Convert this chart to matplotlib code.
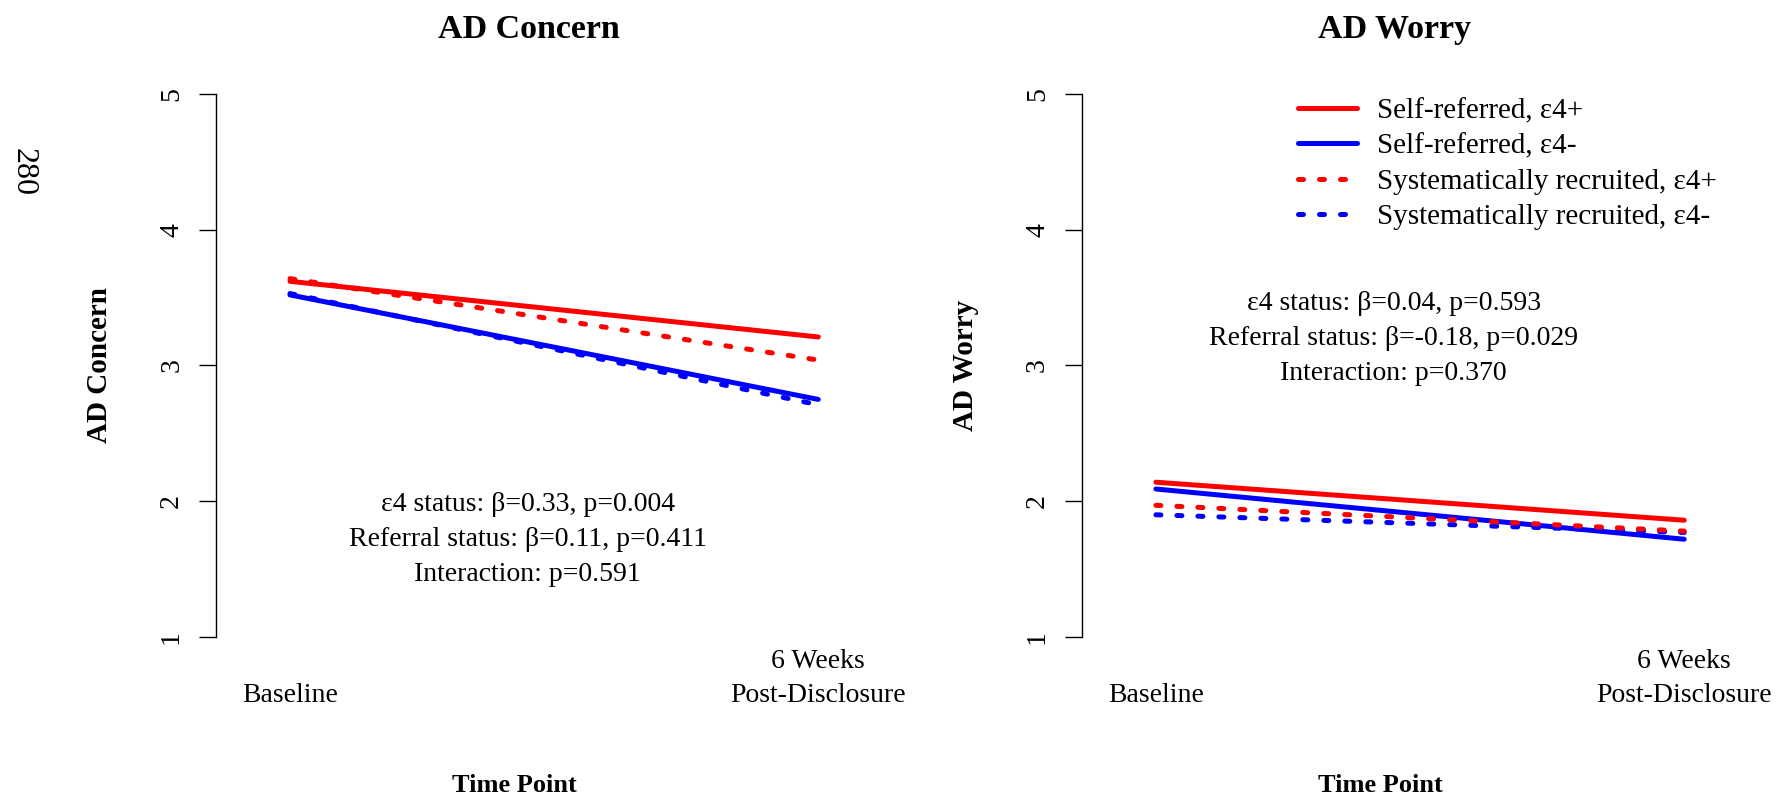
import matplotlib
matplotlib.use("Agg")
import matplotlib.pyplot as plt
from matplotlib.lines import Line2D

# time points (1 = baseline, 2 = 6 weeks post-disclosure)
time_points = [1, 2]
time_labels = ["Baseline", "6 Weeks\nPost-Disclosure"]

# AD Concern
concern_self_pos = [3.62, 3.21]
concern_self_neg = [3.52, 2.75]
concern_sys_pos = [3.64, 3.04]
concern_sys_neg = [3.53, 2.71]
concern_stats = "ε4 status: β=0.33, p=0.004\nReferral status: β=0.11, p=0.411\nInteraction: p=0.591"

# AD Worry
worry_self_pos = [2.14, 1.86]
worry_self_neg = [2.09, 1.72]
worry_sys_pos = [1.97, 1.78]
worry_sys_neg = [1.90, 1.77]
worry_stats = "ε4 status: β=0.04, p=0.593\nReferral status: β=-0.18, p=0.029\nInteraction: p=0.370"

group_labels = ["Self-referred, ε4+", "Self-referred, ε4-",
                "Systematically recruited, ε4+", "Systematically recruited, ε4-"]

plt.rcParams['font.family'] = ['Liberation Serif', 'DejaVu Serif']

RED = '#ff0000'
BLUE = '#0000ff'
LW = 3.6
DASH = (0, (1.0, 3.2))
FS = 20


def draw_panel(ax, self_pos, self_neg, sys_pos, sys_neg, title, ylabel, stats, stats_y):
    ax.plot(time_points, self_pos, color=RED, lw=LW, solid_capstyle='round')
    ax.plot(time_points, self_neg, color=BLUE, lw=LW, solid_capstyle='round')
    ax.plot(time_points, sys_neg, color=BLUE, lw=LW, ls=DASH, dash_capstyle='round')
    ax.plot(time_points, sys_pos, color=RED, lw=LW, ls=DASH, dash_capstyle='round')

    ax.set_xlim(0.86, 2.045)
    ax.set_ylim(0.84, 5.16)

    for s in ['top', 'right', 'bottom']:
        ax.spines[s].set_visible(False)
    ax.spines['left'].set_bounds(1, 5)
    ax.spines['left'].set_linewidth(1.0)

    ax.set_yticks([1, 2, 3, 4, 5])
    ax.set_yticklabels(['1', '2', '3', '4', '5'], rotation=90, va='center', fontsize=FS)
    ax.tick_params(axis='y', length=12, width=1.0, pad=11)

    ax.set_xticks(time_points)
    ax.set_xticklabels(time_labels, fontsize=FS, va='bottom', linespacing=1.48)
    ax.tick_params(axis='x', length=0, pad=35.5)

    ax.set_title(title, fontsize=24.5, fontweight='bold', pad=25)
    ax.set_ylabel(ylabel, fontsize=21, fontweight='bold')
    ax.yaxis.set_label_coords(-0.165, 0.5)
    ax.set_xlabel("Time Point", fontsize=19, fontweight='bold')
    ax.xaxis.set_label_coords(0.476, -0.197)

    ax.text(1.45, stats_y, stats, ha='center', va='center', fontsize=FS,
            linespacing=1.53)


fig = plt.figure(figsize=(17.81, 7.98), dpi=100)
ax1 = fig.add_axes([0.1213, 0.1746, 0.3515, 0.7348])
ax2 = fig.add_axes([0.6075, 0.1746, 0.3515, 0.7348])

draw_panel(ax1, concern_self_pos, concern_self_neg, concern_sys_pos, concern_sys_neg,
           "AD Concern", "AD Concern", concern_stats, 1.72)
draw_panel(ax2, worry_self_pos, worry_self_neg, worry_sys_pos, worry_sys_neg,
           "AD Worry", "AD Worry", worry_stats, 3.20)

handles = [
    Line2D([], [], color=RED, lw=LW, solid_capstyle='round'),
    Line2D([], [], color=BLUE, lw=LW, solid_capstyle='round'),
    Line2D([], [], color=RED, lw=LW, ls=DASH, dash_capstyle='round'),
    Line2D([], [], color=BLUE, lw=LW, ls=DASH, dash_capstyle='round'),
]
fig.legend(handles, group_labels, loc='upper left', frameon=False, fontsize=21,
           bbox_to_anchor=(1298 / 1781, 1 - 98 / 798), borderpad=0, borderaxespad=0,
           handlelength=2.02, handletextpad=0.68, labelspacing=0.3)

# page number from the source page
fig.text(23 / 1781, 1 - 172 / 798, "280", rotation=-90, ha='center', va='center', fontsize=23)

fig.savefig("out.png", dpi=100)
